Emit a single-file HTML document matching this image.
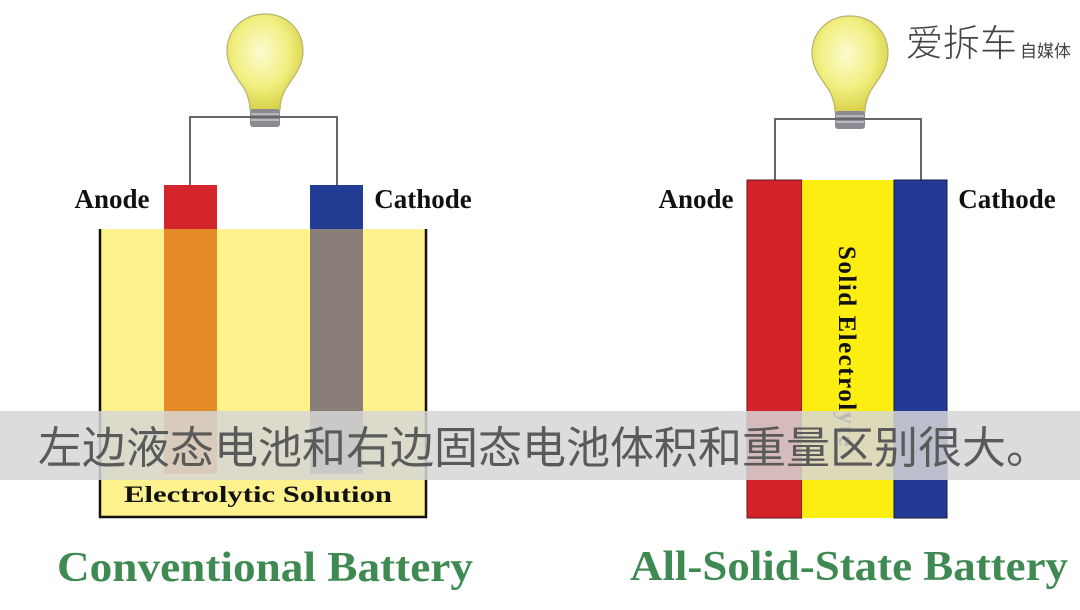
<!DOCTYPE html>
<html><head><meta charset="utf-8"><style>
html,body{margin:0;padding:0;background:#fff;}
body{width:1080px;height:610px;overflow:hidden;position:relative;}
svg{position:absolute;left:0;top:0;}
</style></head><body>
<svg width="1080" height="610" viewBox="0 0 1080 610" xmlns="http://www.w3.org/2000/svg">
<defs>
<radialGradient id="bulb" cx="0.45" cy="0.4" r="0.6">
<stop offset="0" stop-color="#fbfbd0"/><stop offset="0.6" stop-color="#f1ef80"/><stop offset="1" stop-color="#d8d24a"/>
</radialGradient>
</defs>
<g>
<path d="M265 14 C243 14 227 30 227 51 C227 68 238 78 245 90 C249 98 250 104 250 110 L280 110 C280 104 281 98 285 90 C292 78 303 68 303 51 C303 30 287 14 265 14 Z" fill="url(#bulb)" stroke="#b8b270" stroke-width="1.2"/>
<rect x="250" y="109" width="30" height="18" rx="3" fill="#8a8a90"/>
<line x1="251" y1="114" x2="279" y2="114" stroke="#c8c8d0" stroke-width="1.5"/>
<line x1="251" y1="120" x2="279" y2="120" stroke="#c8c8d0" stroke-width="1.5"/>
<polyline points="190,186 190,117 337,117 337,186" fill="none" stroke="#666" stroke-width="2"/>
<rect x="100" y="229" width="327" height="289" fill="#fdf28e"/>
<rect x="164" y="185" width="53" height="45" fill="#d4242c"/>
<rect x="164" y="229" width="53" height="245" fill="#e48a26"/>
<rect x="310" y="185" width="53" height="45" fill="#213c92"/>
<rect x="310" y="229" width="53" height="245" fill="#8a7f78"/>
<polyline points="100,229 100,517 426,517 426,229" fill="none" stroke="#111" stroke-width="2.5"/>
<text x="258" y="502" text-anchor="middle" font-family="Liberation Serif, serif" font-weight="bold" font-size="23" fill="#111" textLength="268" lengthAdjust="spacingAndGlyphs">Electrolytic Solution</text>
<text x="112" y="208" text-anchor="middle" font-family="Liberation Serif, serif" font-weight="bold" font-size="27" fill="#111">Anode</text>
<text x="423" y="208" text-anchor="middle" font-family="Liberation Serif, serif" font-weight="bold" font-size="27" fill="#111">Cathode</text>
<text x="57" y="581" font-family="Liberation Serif, serif" font-weight="bold" font-size="42" fill="#3f8a52" textLength="416" lengthAdjust="spacingAndGlyphs">Conventional Battery</text>
</g>
<g>
<path d="M850 16 C828 16 812 32 812 53 C812 70 823 80 830 92 C834 100 835 106 835 112 L865 112 C865 106 866 100 870 92 C877 80 888 70 888 53 C888 32 872 16 850 16 Z" fill="url(#bulb)" stroke="#b8b270" stroke-width="1.2"/>
<rect x="835" y="111" width="30" height="18" rx="3" fill="#8a8a90"/>
<line x1="836" y1="116" x2="864" y2="116" stroke="#c8c8d0" stroke-width="1.5"/>
<line x1="836" y1="122" x2="864" y2="122" stroke="#c8c8d0" stroke-width="1.5"/>
<polyline points="775,181 775,119 921,119 921,181" fill="none" stroke="#666" stroke-width="2"/>
<rect x="747" y="180" width="55" height="338" fill="#d3222a" stroke="#5a1a1a" stroke-width="1"/>
<rect x="802" y="180" width="92" height="338" fill="#fbee10"/>
<rect x="894" y="180" width="53" height="338" fill="#223a95" stroke="#1a1a3a" stroke-width="1"/>
<text transform="translate(839,246) rotate(90)" font-family="Liberation Serif, serif" font-weight="bold" font-size="25" fill="#111" letter-spacing="1.5">Solid  Electrolyte</text>
<text x="696" y="208" text-anchor="middle" font-family="Liberation Serif, serif" font-weight="bold" font-size="27" fill="#111">Anode</text>
<text x="1007" y="208" text-anchor="middle" font-family="Liberation Serif, serif" font-weight="bold" font-size="27" fill="#111">Cathode</text>
<text x="630" y="580" font-family="Liberation Serif, serif" font-weight="bold" font-size="42" fill="#3f8a52" textLength="438" lengthAdjust="spacingAndGlyphs">All-Solid-State Battery</text>
</g>
<rect x="0" y="411" width="1080" height="69" fill="#d6d6d6" fill-opacity="0.85"/>
<text x="38" y="463" font-family="Liberation Sans, Noto Sans CJK SC, sans-serif" font-size="44" fill="#5a5a5a" textLength="1012" lengthAdjust="spacingAndGlyphs">左边液态电池和右边固态电池体积和重量区别很大。</text>
<text x="906" y="56" font-family="Liberation Sans, Noto Sans CJK SC, sans-serif" font-size="37" font-weight="300" fill="#444">爱拆车</text>
<text x="1020" y="57" font-family="Liberation Sans, Noto Sans CJK SC, sans-serif" font-size="17" fill="#444">自媒体</text>
</svg>
</body></html>
